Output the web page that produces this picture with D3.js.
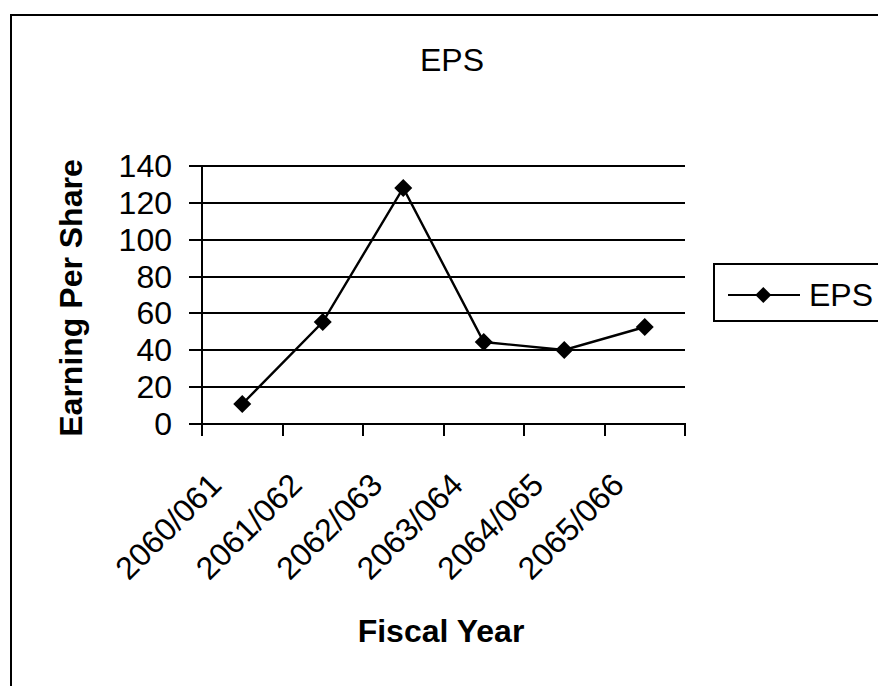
<!DOCTYPE html>
<html>
<head>
<meta charset="utf-8">
<script src="https://cdn.jsdelivr.net/npm/d3@7"></script>
<style>
  html, body { margin: 0; padding: 0; background: #fff; }
  svg { display: block; }
  text { font-family: "Liberation Sans", Arial, sans-serif; fill: #000; }
</style>
</head>
<body>
<svg id="chart" width="878" height="686"></svg>
<script>
// Earning per share by fiscal year
const categories = ["2060/061", "2061/062", "2062/063", "2063/064", "2064/065", "2065/066"];
const epsValues = [11, 55.3, 127.9, 44.6, 40.3, 52.4];
const yTicks = [0, 20, 40, 60, 80, 100, 120, 140];
const seriesName = "EPS";
const chartTitle = "EPS";
const xTitle = "Fiscal Year";
const yTitle = "Earning Per Share";

const plot = { left: 202, right: 685, top: 166, bottom: 424 };

const svg = d3.select("#chart");

// outer chart frame (runs off the right and bottom edges)
svg.append("rect")
  .attr("x", 11).attr("y", 15)
  .attr("width", 900).attr("height", 700)
  .attr("fill", "#fff").attr("stroke", "#000").attr("stroke-width", 2);

const x = d3.scaleBand().domain(categories).range([plot.left, plot.right]).padding(0);
const y = d3.scaleLinear().domain([0, 140]).rangeRound([plot.bottom, plot.top]);

// horizontal gridlines
svg.append("g").selectAll("line").data(yTicks.filter(v => v > 0)).join("line")
  .attr("x1", plot.left).attr("x2", plot.right)
  .attr("y1", d => y(d)).attr("y2", d => y(d))
  .attr("stroke", "#000").attr("stroke-width", 2);

// y axis
const yAxis = svg.append("g")
  .attr("transform", `translate(${plot.left},0)`)
  .call(d3.axisLeft(y).tickValues(yTicks).tickSize(13).tickPadding(17).tickFormat(d3.format("d")));
yAxis.select(".domain").attr("stroke", "#000").attr("stroke-width", 2)
  .attr("d", `M0,${plot.top - 1}V${plot.bottom + 1}`);
yAxis.selectAll(".tick").attr("transform", d => `translate(0,${y(d)})`);
yAxis.selectAll(".tick line").attr("stroke", "#000").attr("stroke-width", 2);
yAxis.selectAll(".tick text")
  .attr("font-size", 32).attr("font-family", "Liberation Sans, Arial, sans-serif")
  .attr("dy", "0.33em").attr("fill", "#000");

// x axis line and boundary ticks
const boundaries = categories.map(c => Math.round(x(c))).concat([x.range()[1]]);
svg.append("line")
  .attr("x1", plot.left - 13).attr("x2", plot.right + 1)
  .attr("y1", plot.bottom).attr("y2", plot.bottom)
  .attr("stroke", "#000").attr("stroke-width", 2);
svg.append("g").selectAll("line").data(boundaries).join("line")
  .attr("x1", d => d).attr("x2", d => d)
  .attr("y1", plot.bottom).attr("y2", plot.bottom + 12)
  .attr("stroke", "#000").attr("stroke-width", 2);

// rotated category labels
svg.append("g").selectAll("text").data(categories).join("text")
  .attr("transform", d => `translate(${x(d) + x.bandwidth() / 2 - 19},${487}) rotate(-45)`)
  .attr("text-anchor", "end")
  .attr("font-size", 32)
  .text(d => d);

// series line
const pts = categories.map((c, i) => [x(c) + x.bandwidth() / 2, y(epsValues[i])]);
svg.append("path")
  .attr("d", d3.line()(pts))
  .attr("fill", "none").attr("stroke", "#000").attr("stroke-width", 2.4)
  .attr("stroke-linejoin", "miter");

const diamond = r => `M0,${-r}L${r},0L0,${r}L${-r},0Z`;
svg.append("g").selectAll("path").data(pts).join("path")
  .attr("transform", d => `translate(${d[0]},${d[1]})`)
  .attr("d", diamond(9))
  .attr("fill", "#000");

// chart title
svg.append("text")
  .attr("x", 452).attr("y", 70.7)
  .attr("text-anchor", "middle").attr("font-size", 32)
  .text(chartTitle);

// axis titles
svg.append("text")
  .attr("transform", `translate(81.7,298) rotate(-90)`)
  .attr("text-anchor", "middle").attr("font-size", 32).attr("font-weight", "bold")
  .text(yTitle);
svg.append("text")
  .attr("x", 441).attr("y", 641.7)
  .attr("text-anchor", "middle").attr("font-size", 32).attr("font-weight", "bold")
  .text(xTitle);

// legend
const legend = svg.append("g");
legend.append("rect")
  .attr("x", 714).attr("y", 264).attr("width", 200).attr("height", 57)
  .attr("fill", "#fff").attr("stroke", "#000").attr("stroke-width", 2);
legend.append("line")
  .attr("x1", 728).attr("x2", 800).attr("y1", 295).attr("y2", 295)
  .attr("stroke", "#000").attr("stroke-width", 2);
legend.append("path")
  .attr("transform", "translate(763.3,295)")
  .attr("d", diamond(8)).attr("fill", "#000");
legend.append("text")
  .attr("x", 809).attr("y", 306).attr("font-size", 32)
  .text(seriesName);
</script>
</body>
</html>
